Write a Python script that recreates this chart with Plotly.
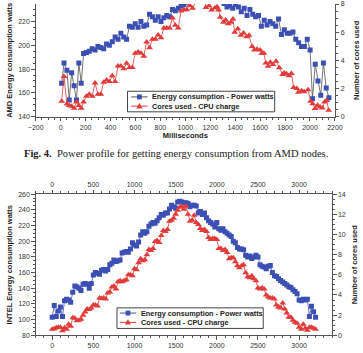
import plotly.graph_objects as go

# ---------------- data : AMD (top chart) ----------------
amd_power_ms = [8, 27, 50, 69, 88, 108, 127, 146, 165,
                184, 207, 230, 253, 276, 299, 322, 345, 368, 391,
                414, 437, 460, 483, 506, 529, 552, 575, 598, 621,
                644, 667, 690, 713, 736, 759, 782, 805, 828, 851,
                874, 897, 920, 943, 966, 989, 1012, 1035, 1058, 1081,
                1104, 1127, 1150, 1173, 1196, 1219, 1242, 1265, 1288, 1311,
                1334, 1357, 1380, 1403, 1426, 1449, 1472, 1495, 1518, 1541,
                1564, 1587, 1610, 1633, 1656, 1679, 1702, 1725, 1748, 1771,
                1794, 1817, 1840, 1863, 1886, 1909, 1932, 1955, 1978, 2001,
                2020, 2042, 2064, 2086, 2108, 2130, 2152]
amd_power_w = [168, 185, 179, 154, 177, 166, 154, 185, 168,
               193, 194, 195, 197, 196, 199, 198, 197, 201, 200,
               203, 207, 205, 210, 207, 205, 216, 215, 218, 215,
               220, 216, 217, 226, 224, 221, 224, 220, 223, 225,
               224, 230, 229, 231, 233, 234, 236, 238, 237, 239,
               240, 241, 240, 242, 241, 239, 240, 238, 237, 235,
               232, 233, 231, 234, 232, 228, 231, 225, 230, 226,
               224, 225, 216, 221, 217, 220, 218, 216, 222, 209,
               213, 210, 210, 211, 205, 202, 199, 199, 205, 196,
               155, 184, 170, 158, 185, 164, 156]

amd_cores_ms = [8, 27, 50, 69, 88, 108, 127, 146, 165,
                184, 207, 230, 253, 276, 299, 322, 345, 368, 391,
                414, 437, 460, 483, 506, 529, 552, 575, 598, 621,
                644, 667, 690, 713, 736, 759, 782, 805, 828, 851,
                874, 897, 920, 943, 966, 989, 1012, 1035, 1058, 1081,
                1104, 1127, 1150,
                1165, 1190, 1211, 1237, 1254, 1267, 1280, 1306, 1323, 1344,
                1365, 1382, 1396, 1421, 1446, 1467, 1492, 1511, 1536, 1554,
                1575, 1600, 1613, 1630, 1646, 1664, 1682, 1703, 1728, 1754, 1780,
                1793, 1811, 1830, 1851, 1869, 1895, 1907, 1933, 1953, 1984,
                2005, 2022, 2041, 2061, 2081, 2099, 2117, 2133, 2150]
amd_cores_n = [1.1, 2.85, 0.9, 0.8, 0.75, 0.6, 1.05, 0.8, 0.6,
               1.05, 1.45, 1.6, 1.45, 2.4, 1.6, 1.6, 2.45, 2.6, 2.5,
               2.9, 2.5, 3.6, 3.6, 3.4, 3.8, 3.5, 3.5, 4.5, 4.6,
               4.5, 4.3, 5.3, 4.9, 5.5, 5.5, 5.8, 5.6, 6.3, 6.3,
               6.3, 7.0, 6.5, 6.3, 7.5, 7.6, 7.6, 7.9, 7.7, 8.1,
               8.3, 8.6, 8.4,
               7.76, 7.87, 7.57, 7.71, 7.8, 7.57, 7.06, 6.7, 6.87, 6.6,
               6.7, 6.94, 6.0, 6.25, 5.79, 5.95, 5.67, 5.79, 4.98, 4.74,
               4.79, 4.74, 4.51, 4.5, 3.82, 3.59, 3.87, 3.7, 3.94, 3.47, 3.0,
               3.1, 3.05, 2.9, 3.07, 2.08, 2.0, 1.74, 1.85, 1.78, 1.92,
               1.1, 0.92, 0.58, 0.81, 0.69, 0.62, 1.04, 1.16, 0.46]

# ---------------- data : INTEL (bottom chart) ----------------
intel_ms = [0, 25, 50, 75, 100, 125, 150, 175,
            200, 225, 250, 275, 300, 325, 350, 375,
            400, 425, 450, 475, 500, 525, 550, 575,
            600, 625, 650, 675, 700, 725, 750, 775,
            800, 825, 850, 875, 900, 925, 950, 975,
            1000, 1025, 1050, 1075, 1100, 1125, 1150, 1175,
            1200, 1225, 1250, 1275, 1300, 1325, 1350, 1375,
            1400, 1425, 1450, 1475, 1500, 1525, 1550, 1575,
            1600, 1625, 1650, 1675, 1700, 1725, 1750, 1775,
            1800, 1825, 1850, 1875, 1900, 1925, 1950, 1975,
            2000, 2025, 2050, 2075, 2100, 2125, 2150, 2175,
            2200, 2225, 2250, 2275, 2300, 2325, 2350, 2375,
            2400, 2425, 2450, 2475, 2500, 2525, 2550, 2575,
            2600, 2625, 2650, 2675, 2700, 2725, 2750, 2775,
            2800, 2825, 2850, 2875, 2900, 2925, 2950, 2975,
            3000, 3025, 3050, 3075, 3100, 3125, 3150, 3175,
            3200]
intel_power_w = [103, 118, 104, 111, 116, 104, 124, 126,
                 125, 122, 135, 143, 142, 140, 137, 145,
                 146, 145, 140, 146, 157, 160, 159, 158,
                 163, 164, 162, 164, 170, 172, 176, 174,
                 175, 176, 185, 186, 187, 186, 190, 198,
                 195, 194, 199, 208, 212, 210, 212, 219,
                 222, 224, 223, 226, 230, 234, 233, 236,
                 236, 241, 246, 244, 242, 250, 251, 250,
                 249, 249, 248, 244, 246, 246, 245, 236,
                 238, 234, 236, 230, 226, 224, 222, 218,
                 224, 216, 214, 216, 212, 210, 208, 206,
                 200, 198, 192, 190, 190, 189, 182, 180,
                 181, 178, 180, 182, 180, 170, 168, 167,
                 165, 168, 169, 160, 156, 155, 152, 150,
                 148, 146, 144, 142, 141, 138, 136, 133,
                 125, 124, 126, 125, 126, 104, 117, 110,
                 103]
intel_cores_n = [0.6, 0.65, 0.75, 0.8, 0.8, 0.45, 0.75, 0.6,
                 1.1, 0.9, 1.75, 1.7, 1.45, 1.5, 1.6, 2.0,
                 2.3, 2.6, 2.55, 2.7, 3.0, 3.0, 2.9, 3.7,
                 3.65, 3.7, 3.6, 4.2, 4.3, 4.8, 4.9, 4.6,
                 5.3, 5.4, 5.3, 5.4, 5.5, 6.0, 6.0, 5.9,
                 6.6, 6.5, 7.2, 7.6, 7.4, 7.5, 8.0, 8.5,
                 8.4, 8.6, 9.3, 9.4, 9.2, 9.9, 10.4, 10.3,
                 10.5, 11.3, 11.4, 11.6, 12.0, 12.4, 12.7, 12.8,
                 12.5, 12.8, 12.0, 11.3, 11.4, 11.9, 11.2, 11.0,
                 10.6, 10.4, 10.5, 10.3, 9.7, 9.5, 9.6, 9.6,
                 9.5, 8.6, 8.6, 8.4, 8.5, 8.2, 7.6, 7.7,
                 7.7, 7.3, 6.9, 6.7, 6.9, 7.0, 6.2, 5.8,
                 5.7, 5.9, 5.6, 5.4, 4.7, 4.6, 4.7, 4.6,
                 4.0, 3.8, 3.7, 3.7, 3.6, 3.0, 2.8, 2.7,
                 3.2, 2.6, 2.2, 1.8, 1.8, 1.5, 1.3, 1.2,
                 0.8, 0.6, 1.1, 0.7, 0.5, 0.8, 0.8, 0.7,
                 0.6]

amd_x_ticks = [-200, 0, 200, 400, 600, 800, 1000, 1200, 1400, 1600, 1800, 2000, 2200]
intel_x_ticks = [0, 500, 1000, 1500, 2000, 2500, 3000]

series_names = ["Energy consumption - Power watts", "Cores used - CPU charge"]
caption = "<b>Fig. 4.</b>  Power profile for getting energy consumption from AMD nodes."

# ---------------- style ----------------
W, H = 363, 353
BLUE = "#3c4fb4"
RED = "#e23b3b"
AX = "#555555"
TICKFONT = dict(family="Liberation Sans", size=7, color="#333333")
TITLEFONT = dict(family="Liberation Sans", size=7.5, color="#222222", weight="bold")
LEGFONT = dict(family="Liberation Sans", size=7.3, color="#222222", weight="bold")


def px_x(p):
    return p / W


def px_y(p):
    return 1 - p / H


def axis(**kw):
    base = dict(showline=True, linecolor=AX, linewidth=1, ticks="outside", ticklen=3.5,
                tickcolor=AX, tickwidth=1, showgrid=False, zeroline=False,
                tickfont=TICKFONT)
    base.update(kw)
    return base


fig = go.Figure()

fig.add_trace(go.Scatter(x=amd_power_ms, y=amd_power_w, mode="lines+markers",
                         name=series_names[0], xaxis="x", yaxis="y", showlegend=False,
                         marker=dict(symbol="square", size=5, color=BLUE),
                         line=dict(color="#505050", width=0.8)))
fig.add_trace(go.Scatter(x=amd_cores_ms, y=amd_cores_n, mode="lines+markers",
                         name=series_names[1], xaxis="x", yaxis="y2", showlegend=False,
                         marker=dict(symbol="triangle-up", size=6, color=RED),
                         line=dict(color=RED, width=0.8)))

fig.add_trace(go.Scatter(x=intel_ms, y=intel_power_w, mode="lines+markers",
                         name=series_names[0], xaxis="x2", yaxis="y3", showlegend=False,
                         marker=dict(symbol="square", size=5, color=BLUE),
                         line=dict(color=BLUE, width=0.8)))
fig.add_trace(go.Scatter(x=intel_ms, y=intel_cores_n, mode="lines+markers",
                         name=series_names[1], xaxis="x2", yaxis="y4", showlegend=False,
                         marker=dict(symbol="triangle-up", size=6, color=RED),
                         line=dict(color=RED, width=0.8)))
fig.add_trace(go.Scatter(x=[None], y=[None], xaxis="x3", yaxis="y3", showlegend=False,
                         hoverinfo="skip"))

# ---------- hand-drawn compact legends (paper coordinates) ----------
shapes = []
annotations = []


def legend_box(left, top, right, bottom, line_x0, line_x1, text_x, row_y, line_colors):
    shapes.append(dict(type="rect", xref="paper", yref="paper",
                       x0=px_x(left), x1=px_x(right), y0=px_y(bottom), y1=px_y(top),
                       line=dict(color="#444444", width=1), fillcolor="white", layer="above"))
    cx = (line_x0 + line_x1) / 2
    for i, (name, ry) in enumerate(zip(series_names, row_y)):
        shapes.append(dict(type="line", xref="paper", yref="paper",
                           x0=px_x(line_x0), x1=px_x(line_x1), y0=px_y(ry), y1=px_y(ry),
                           line=dict(color=line_colors[i], width=1), layer="above"))
        if i == 0:
            shapes.append(dict(type="rect", xref="paper", yref="paper",
                               x0=px_x(cx - 2.5), x1=px_x(cx + 2.5),
                               y0=px_y(ry + 2.5), y1=px_y(ry - 2.5),
                               line=dict(width=0), fillcolor=BLUE, layer="above"))
        else:
            path = "M {:.5f} {:.5f} L {:.5f} {:.5f} L {:.5f} {:.5f} Z".format(
                px_x(cx), px_y(ry - 3.2), px_x(cx - 3.2), px_y(ry + 2.3),
                px_x(cx + 3.2), px_y(ry + 2.3))
            shapes.append(dict(type="path", xref="paper", yref="paper", path=path,
                               line=dict(width=0), fillcolor=RED, layer="above"))
        annotations.append(dict(text=name, x=px_x(text_x), y=px_y(ry), xref="paper",
                                yref="paper", xanchor="left", yanchor="middle",
                                showarrow=False, font=LEGFONT))


legend_box(125, 89, 279, 110, 129, 146, 149, [94.8, 104.2], ["#505050", RED])
legend_box(114, 310, 267, 331, 117, 134, 137, [315.3, 324.8], [BLUE, RED])

annotations.append(dict(text=caption, x=px_x(176), y=px_y(153), xref="paper", yref="paper",
                        xanchor="center", yanchor="middle", showarrow=False,
                        font=dict(family="Liberation Serif", size=10.5, color="#222222")))

top_dom_x = [px_x(29), px_x(342)]
bot_dom_x = [px_x(29), px_x(339)]

fig.update_layout(
    width=W, height=H, autosize=False,
    margin=dict(l=0, r=0, t=0, b=0),
    paper_bgcolor="white", plot_bgcolor="white",
    showlegend=False,
    xaxis=axis(domain=top_dom_x, range=[-200, 2200], anchor="y", tickvals=amd_x_ticks,
               minor=dict(dtick=50, ticks="outside", ticklen=2, tickcolor=AX),
               title=dict(text="Milliseconds", font=TITLEFONT, standoff=3)),
    yaxis=axis(domain=[px_y(115), 1], range=[140, 234.6], anchor="x", dtick=20,
               minor=dict(dtick=5, ticks="outside", ticklen=2, tickcolor=AX),
               title=dict(text="AMD Energy consumption watts", font=TITLEFONT, standoff=4)),
    yaxis2=axis(overlaying="y", side="right", anchor="x", range=[0, 8.0], dtick=2,
                minor=dict(dtick=0.5, ticks="outside", ticklen=2, tickcolor=AX),
                title=dict(text="Number of cores used", font=TITLEFONT, standoff=9)),
    xaxis2=axis(domain=bot_dom_x, range=[-200, 3400], anchor="y3", tickvals=intel_x_ticks,
                minor=dict(dtick=100, ticks="outside", ticklen=2, tickcolor=AX)),
    xaxis3=axis(overlaying="x2", side="top", anchor="y3", range=[-200, 3400],
                tickvals=intel_x_ticks,
                minor=dict(dtick=100, ticks="outside", ticklen=2, tickcolor=AX)),
    yaxis3=axis(domain=[px_y(338), px_y(194)], range=[80, 260], anchor="x2", dtick=20,
                minor=dict(dtick=5, ticks="outside", ticklen=2, tickcolor=AX),
                title=dict(text="INTEL Energy consumption watts", font=TITLEFONT, standoff=4)),
    yaxis4=axis(overlaying="y3", side="right", anchor="x2", range=[0, 14], dtick=2,
                minor=dict(dtick=0.5, ticks="outside", ticklen=2, tickcolor=AX),
                title=dict(text="Number of cores used", font=TITLEFONT, standoff=6)),
    shapes=shapes,
    annotations=annotations,
)

fig.write_html("out.html")
